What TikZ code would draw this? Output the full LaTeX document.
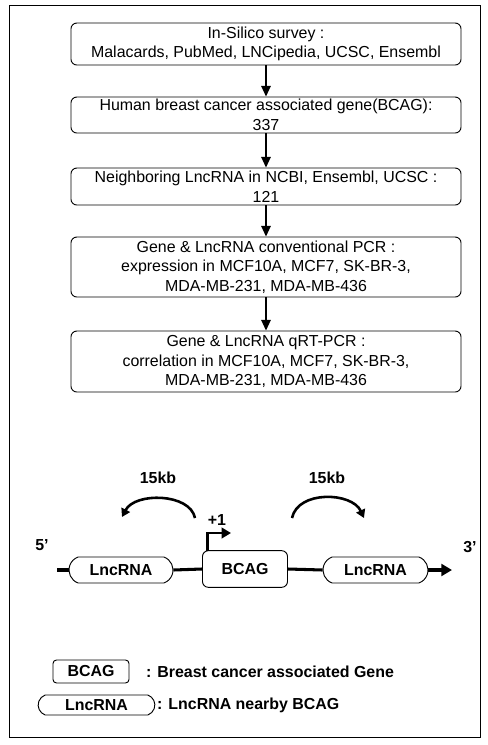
\documentclass[tikz,border=0pt]{standalone}
\usepackage{fontspec}
\setmainfont{Liberation Sans}
\usetikzlibrary{arrows.meta,shapes.misc}

\tikzset{
	flowbox/.style = {draw, rounded corners = 5pt, line width = 0.8pt, align = center,
		minimum width = 11.7cm, inner sep = 0pt, font = \fontsize{13.6}{16.6}\selectfont},
	flowarrow/.style = {line width = 1.3pt, -{Triangle[length = 9pt, width = 8pt]}},
	genebox/.style = {draw, rounded corners = 5pt, line width = 0.8pt, inner sep = 0pt,
		font = \bfseries\fontsize{13.6}{16}\selectfont},
	lncbox/.style = {draw, rounded rectangle, rounded rectangle arc length = 140,
		line width = 0.8pt, inner sep = 0pt, font = \bfseries\fontsize{13.6}{16}\selectfont},
	geneline/.style = {line width = 2.6pt},
	bold/.style = {font = \bfseries\fontsize{13.6}{16}\selectfont}
}

\begin{document}
\begin{tikzpicture}[x = 0.03cm, y = -0.03cm]

\useasboundingbox (0,0) rectangle (488,745);
\draw[line width = 0.8pt] (9.5,5) rectangle (480,737);

\node[flowbox, minimum height = 1.26cm] (S1) at (266,44)
	{In-Silico survey :\\ Malacards, PubMed, LNCipedia, UCSC, Ensembl};
\node[flowbox, minimum height = 1.08cm] (S2) at (266,115)
	{Human breast cancer associated gene(BCAG):\\ 337};
\node[flowbox, minimum height = 1.11cm] (S3) at (266,186.5)
	{Neighboring LncRNA in NCBI, Ensembl, UCSC :\\ 121};
\node[flowbox, minimum height = 1.8cm] (S4) at (266,267)
	{Gene \& LncRNA conventional PCR :\\ expression in MCF10A, MCF7, SK-BR-3,\\ MDA-MB-231, MDA-MB-436};
\node[flowbox, minimum height = 1.83cm] (S5) at (266,361.5)
	{Gene \& LncRNA qRT-PCR :\\ correlation in MCF10A, MCF7, SK-BR-3,\\ MDA-MB-231, MDA-MB-436};

\draw[flowarrow] (S1) -- (S2);
\draw[flowarrow] (S2) -- (S3);
\draw[flowarrow] (S3) -- (S4);
\draw[flowarrow] (S4) -- (S5);

% gene map
\coordinate (B0) at (57,570);
\coordinate (B1) at (452,570);
\node[lncbox, minimum width = 3.12cm, minimum height = 0.78cm] (L1) at (121,570) {LncRNA};
\node[genebox, minimum width = 2.55cm, minimum height = 1.1cm] (G) at (245,569) {BCAG};
\node[lncbox, minimum width = 3.15cm, minimum height = 0.78cm] (L2) at (375.5,570) {LncRNA};

\draw[geneline] (B0) -- (L1.west);
\draw[geneline] (L1.east) -- (G.west);
\draw[geneline] (G.east) -- (L2.west);
\draw[geneline, -{Triangle[length = 9pt, width = 10pt]}] (L2.east) -- (B1);

\node[bold] (P5) at (42,545) {5'};
\node[bold] (P3) at (470,547) {3'};

\coordinate (T0) at (207.5,551);
\coordinate (T1) at (207.5,533);
\coordinate (T2) at (231,533);
\draw[line width = 2pt, -{Triangle[length = 8pt, width = 9pt]}] (T0) -- (T1) -- (T2);
\node[bold] (TS) at (217,520) {+1};

\coordinate (AL0) at (195,518);
\coordinate (AL1) at (122,517);
\coordinate (AR0) at (292,518);
\coordinate (AR1) at (364,518);
\draw[line width = 2.2pt, -{Triangle[length = 7pt, width = 8pt]}]
	(AL0) .. controls (190,493) and (135,492) .. (AL1);
\draw[line width = 2.2pt, -{Triangle[length = 7pt, width = 8pt]}]
	(AR0) .. controls (298,490) and (352,492) .. (AR1);
\node[bold] (K1) at (158,478) {15kb};
\node[bold] (K2) at (327,478) {15kb};

% legend
\node[genebox, minimum width = 2.28cm, minimum height = 0.69cm, rounded corners = 3pt] (LG) at (91,671.5) {BCAG};
\node[lncbox, minimum width = 3.5cm, minimum height = 0.6cm] (LL) at (96.5,705) {LncRNA};
\node[bold, anchor = west, inner sep = 0pt] (TG) at (146,672) {: Breast cancer associated Gene};
\node[bold, anchor = west, inner sep = 0pt] (TL) at (157,705) {: LncRNA nearby BCAG};

\end{tikzpicture}
\end{document}
